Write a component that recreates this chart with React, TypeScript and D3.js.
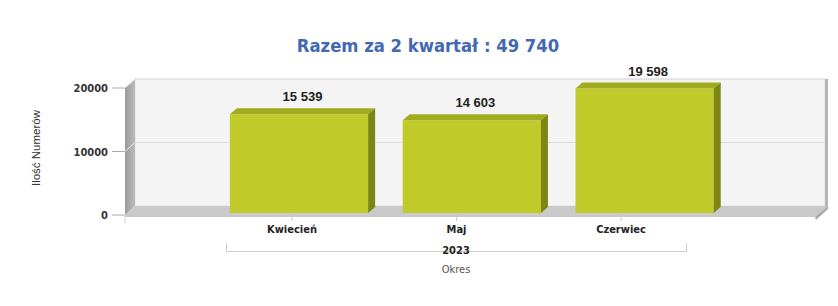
import React from "react";
import * as d3 from "d3";

const months = ["Kwiecień", "Maj", "Czerwiec"];
const values = [15539, 14603, 19598];
const yTicks = [0, 10000, 20000];
const groupLabel = "2023";
const xTitle = "Okres";
const yTitle = "Ilość Numerów";
const title = "Razem za 2 kwartał : 49 740";

const W = 838;
const H = 306;

export default function App() {
  const frontLeft = 125;
  const frontRight = 815;
  const ddx = 10;
  const ddy = -9;
  const y = d3.scaleLinear().domain([0, 20000]).range([215, 88]);
  const base = y(0);

  const xBar = d3
    .scaleBand<string>()
    .domain(months)
    .range([212.6, 731])
    .paddingInner(0.2)
    .paddingOuter(0.1);
  const xLab = d3.scalePoint<string>().domain(months).range([292, 621]);

  const bdx = 7;
  const bdy = -6;
  const barBase = base - 2;
  const fmt = (v: number) => d3.format(",")(v).replace(/,/g, " ");

  const backTop = y(20000) + ddy;
  const backBottom = base + ddy;
  const fontCond = "'DejaVu Sans Condensed', 'DejaVu Sans', sans-serif";

  return (
    <svg width={W} height={H} style={{ display: "block", position: "absolute", left: 0, top: 0 }}>
      <defs>
        <linearGradient id="lw" x1="0" x2="1" y1="0" y2="0">
          <stop offset="0" stopColor="#9a9a9a" />
          <stop offset="1" stopColor="#bcbcbc" />
        </linearGradient>
      </defs>
      <rect x={0} y={0} width={W} height={H} fill="#ffffff" />
      <text
        x={428}
        y={52}
        textAnchor="middle"
        fontFamily={fontCond}
        fontWeight="bold"
        fontSize={18.3}
        fill="#4468b2"
      >
        {title}
      </text>

      {/* back wall */}
      <rect
        x={frontLeft + ddx}
        y={backTop}
        width={frontRight - frontLeft}
        height={backBottom - backTop}
        fill="#f4f4f4"
        stroke="#e2e2e2"
        strokeWidth={1}
      />
      {/* right edge strip */}
      <rect x={frontRight + ddx} y={backTop} width={3} height={backBottom - backTop + 2} fill="#b4b4b4" />
      {/* left wall */}
      <polygon
        points={`${frontLeft},${y(20000)} ${frontLeft + ddx},${backTop} ${frontLeft + ddx},${backBottom} ${frontLeft},${base}`}
        fill="url(#lw)"
      />
      {/* gridlines */}
      {yTicks
        .filter((t) => t > 0)
        .map((t) => (
          <g key={"g" + t}>
            <line
              x1={frontLeft + ddx}
              x2={frontRight + ddx}
              y1={y(t) + ddy}
              y2={y(t) + ddy}
              stroke="#dcdcdc"
              strokeWidth={1}
            />
            <line
              x1={frontLeft}
              x2={frontLeft + ddx}
              y1={y(t)}
              y2={y(t) + ddy}
              stroke="#e8e8e8"
              strokeWidth={1}
            />
          </g>
        ))}
      {/* floor */}
      <polygon
        points={`${frontLeft},${base} ${frontLeft + ddx},${backBottom} ${frontRight + ddx + 3},${backBottom} ${frontRight},${base + 2} ${frontLeft},${base + 2}`}
        fill="#c9c9c9"
      />
      <polygon
        points={`${frontRight},${base + 2} ${frontRight + ddx + 3},${backBottom} ${frontRight + ddx + 3},${backBottom + 3} ${frontRight + 1},${base + 5}`}
        fill="#a9a9a9"
      />

      {/* y axis ticks */}
      {yTicks.map((t) => (
        <g key={"t" + t}>
          <line x1={112} x2={frontLeft} y1={y(t)} y2={y(t)} stroke="#aaaaaa" strokeWidth={1} />
          <text
            x={108}
            y={y(t) + 4}
            textAnchor="end"
            fontFamily={fontCond}
            fontWeight="bold"
            fontSize={11}
            fill="#333333"
          >
            {t}
          </text>
        </g>
      ))}
      <line x1={frontLeft} x2={frontLeft} y1={base} y2={base + 8} stroke="#cccccc" strokeWidth={1} />

      {/* bars */}
      {months.map((m, i) => {
        const x0 = xBar(m) as number;
        const w = xBar.bandwidth();
        const yt = y(values[i]) - 2;
        return (
          <g key={m}>
            <rect x={x0} y={yt} width={w} height={barBase - yt} fill="#c0cb29" />
            <polygon
              points={`${x0},${yt} ${x0 + bdx},${yt + bdy} ${x0 + w + bdx},${yt + bdy} ${x0 + w},${yt}`}
              fill="#a2ab1d"
            />
            <polygon
              points={`${x0 + w},${yt} ${x0 + w + bdx},${yt + bdy} ${x0 + w + bdx},${barBase + bdy} ${x0 + w},${barBase}`}
              fill="#7d8513"
            />
            <text
              x={x0 + w / 2 + bdx / 2}
              y={yt + bdy - 7}
              textAnchor="middle"
              fontFamily="'Liberation Sans', Arial, sans-serif"
              fontWeight="bold"
              fontSize={13}
              fill="#222222"
            >
              {fmt(values[i])}
            </text>
          </g>
        );
      })}

      {/* category labels */}
      {months.map((m) => (
        <g key={"l" + m}>
          <line x1={xLab(m)} x2={xLab(m)} y1={base} y2={base + 6} stroke="#cccccc" strokeWidth={1} />
          <text
            x={xLab(m)}
            y={232.5}
            textAnchor="middle"
            fontFamily={fontCond}
            fontWeight="bold"
            fontSize={11}
            fill="#222222"
          >
            {m}
          </text>
        </g>
      ))}

      {/* group bracket */}
      <path d="M226.5,243 V251.5 H686.5 V243" fill="none" stroke="#cccccc" strokeWidth={1} />
      <text
        x={456}
        y={254}
        textAnchor="middle"
        fontFamily={fontCond}
        fontWeight="bold"
        fontSize={11}
        fill="#222222"
      >
        {groupLabel}
      </text>
      <text
        x={456}
        y={272.5}
        textAnchor="middle"
        fontFamily={fontCond}
        fontSize={11}
        fill="#555555"
      >
        {xTitle}
      </text>

      <text
        transform={`translate(40,148) rotate(-90)`}
        textAnchor="middle"
        fontFamily="'Liberation Sans', Arial, sans-serif"
        fontSize={11.5}
        fill="#333333"
      >
        {yTitle}
      </text>
    </svg>
  );
}
